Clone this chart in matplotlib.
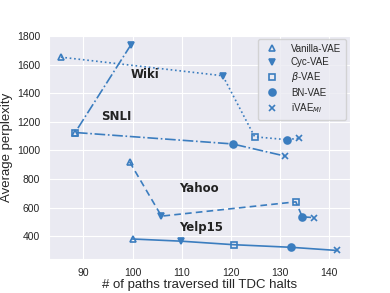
import numpy as np
import matplotlib.pyplot as plt
import seaborn as sns

sns.set_style('darkgrid')
plt.rcParams['font.family'] = ['Liberation Sans', 'DejaVu Sans']

models = ['Vanilla-VAE', 'Cyc-VAE', r'$\beta$-VAE', 'BN-VAE', r'iVAE$_{MI}$']
markers = ['^', 'v', 's', 'o', 'x']
filled = [False, True, False, True, True]

# paths traversed (x) and perplexity (y), order follows `models`
wiki_x = [85.4, 118.4, 124.9, 131.4, 134.0]
wiki_y = [1652, 1522, 1095, 1075, 1085]
snli_x = [88.3, 99.7, 88.3, 120.4, 131.1]
snli_y = [1125, 1740, 1125, 1045, 960]
yahoo_x = [99.4, 105.9, 133.3, 134.6, 136.9]
yahoo_y = [920, 540, 640, 535, 530]
yelp_x = [100.0, 109.8, 120.7, 132.3, 141.6]
yelp_y = [380, 365, 340, 322, 300]

# order in which the points of each curve are joined
wiki_order = [0, 1, 2, 3, 4]
snli_order = [1, 0, 3, 4]
yahoo_order = [0, 1, 2, 3, 4]
yelp_order = [0, 1, 2, 3, 4]

datasets = [
    ('Wiki', wiki_x, wiki_y, wiki_order, ':', (102.5, 1530)),
    ('SNLI', snli_x, snli_y, snli_order, '-.', (96.7, 1235)),
    ('Yahoo', yahoo_x, yahoo_y, yahoo_order, (0, (4, 2.5)), (113.6, 730)),
    ('Yelp15', yelp_x, yelp_y, yelp_order, '-', (113.9, 463)),
]

color = '#3b7dbf'

fig = plt.figure(figsize=(3.9, 2.93), dpi=100)
ax = fig.add_axes([0.126, 0.116, 0.771, 0.765])

for name, xs, ys, order, ls, pos in datasets:
    ax.plot([xs[k] for k in order], [ys[k] for k in order],
            linestyle=ls, color=color, lw=1.2)
    for i in range(len(models)):
        face = color if filled[i] else 'none'
        ax.plot(xs[i], ys[i], marker=markers[i], color=color,
                markerfacecolor=face, markersize=5, mew=1.2,
                linestyle='none')
    ax.text(pos[0], pos[1], name, ha='center', va='center',
            fontsize=8.5, fontweight='bold', color='#222222',
            family='DejaVu Sans')

handles = []
for i in range(len(models)):
    face = color if filled[i] else 'none'
    h, = ax.plot([], [], marker=markers[i], color=color,
                 markerfacecolor=face, markersize=5, mew=1.2,
                 linestyle='none', label=models[i])
    handles.append(h)
ax.legend(handles=handles, loc='upper right', fontsize=7,
          handletextpad=0.9, borderpad=0.5, labelspacing=0.35,
          borderaxespad=0.4)

ax.set_xlim(83, 144.3)
ax.set_ylim(240, 1808)
ax.set_xticks([90, 100, 110, 120, 130, 140])
ax.set_yticks([400, 600, 800, 1000, 1200, 1400, 1600, 1800])
ax.tick_params(labelsize=7.5, pad=3)
ax.set_xlabel('# of paths traversed till TDC halts', fontsize=9.5, labelpad=1)
ax.set_ylabel('Average perplexity', fontsize=9.5, labelpad=3)

plt.savefig('out.png', dpi=100)
plt.close(fig)
